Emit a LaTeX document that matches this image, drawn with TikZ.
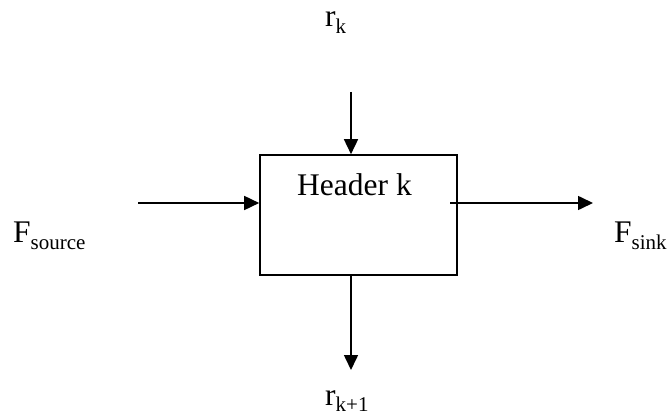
\documentclass[tikz,border=0pt]{standalone}
\usepackage{fontspec}
\setmainfont{Liberation Serif}
\usetikzlibrary{arrows.meta}
\newcommand{\bigtxt}{\fontsize{31.5}{35}\selectfont}
\newcommand{\subtxt}[1]{\raisebox{-0.2em}{\fontsize{21}{23}\selectfont #1}}
\begin{document}
\begin{tikzpicture}[x=1pt,y=-1pt,
  flow/.style={line width=1.6pt,-{Triangle[length=15pt,width=14pt]}},
  lbl/.style={inner sep=0pt,anchor=base west,font=\bigtxt}]
\useasboundingbox (0,0) rectangle (670,417);
\node[draw,line width=1.6pt,minimum width=197pt,minimum height=120pt,inner sep=0pt] (box) at (358.5,215) {};
\node[lbl] (hdr) at (297,196) {Header k};
\node[lbl] (rk) at (325,27) {r\subtxt{k}};
\node[lbl] (rk1) at (325,405) {r\subtxt{k+1}};
\node[lbl] (fsrc) at (13,243) {F\subtxt{source}};
\node[lbl] (fsnk) at (614,243) {F\subtxt{sink}};
\coordinate (topin) at (351,92);
\coordinate (botout) at (351,370);
\coordinate (leftin) at (138,203);
\coordinate (rightst) at (450,203);
\coordinate (rightout) at (593,203);
\draw[flow] (topin) -- (topin |- box.north);
\draw[flow] (topin |- box.south) -- (botout);
\draw[flow] (leftin) -- (leftin -| box.west);
\draw[flow] (rightst) -- (rightout);
\end{tikzpicture}
\end{document}
